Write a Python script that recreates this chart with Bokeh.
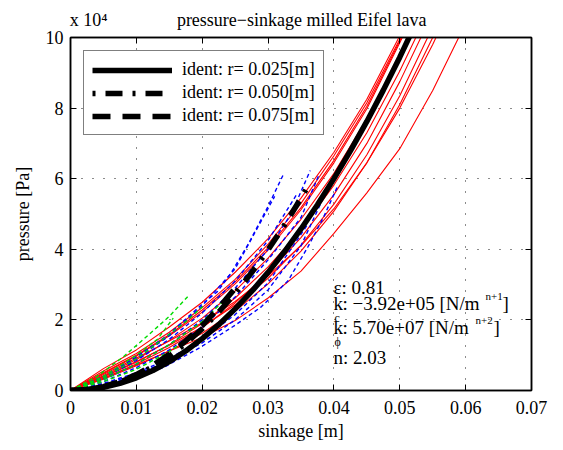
from bokeh.plotting import figure
from bokeh.models import Range1d, LinearAxis, FixedTicker, Legend, LegendItem, Label
from bokeh.embed import file_html
from bokeh.resources import INLINE

FONT = "Liberation Serif"

# ---------------- data ----------------
x_ticks = [0, 0.01, 0.02, 0.03, 0.04, 0.05, 0.06, 0.07]
x_tick_labels = ["0", "0.01", "0.02", "0.03", "0.04", "0.05", "0.06", "0.07"]
y_ticks = [0, 2, 4, 6, 8, 10]
y_tick_labels = ["0", "2", "4", "6", "8", "10"]

# measured curves r = 0.025 (red), pressure in 1e4 Pa
red_x = [0, 0.005, 0.01, 0.015, 0.02, 0.025, 0.03, 0.035, 0.04, 0.045, 0.05, 0.055, 0.06]
red_1 = [0, 0.62, 1.15, 1.80, 2.50, 3.35, 4.30, 5.45, 6.75, 8.25, 10.05, 12.0, 14.0]
red_2 = [0, 0.55, 1.05, 1.65, 2.35, 3.15, 4.15, 5.30, 6.65, 8.15, 9.95, 11.9, 14.0]
red_3 = [0, 0.48, 0.98, 1.55, 2.22, 3.02, 3.98, 5.12, 6.45, 7.98, 9.85, 11.8, 14.0]
red_4 = [0, 0.42, 0.88, 1.42, 2.05, 2.82, 3.75, 4.85, 6.15, 7.70, 9.50, 11.5, 13.6]
red_5 = [0, 0.38, 0.80, 1.30, 1.90, 2.62, 3.50, 4.55, 5.82, 7.30, 9.05, 11.0, 13.0]
red_6 = [0, 0.35, 0.75, 1.22, 1.78, 2.48, 3.32, 4.33, 5.55, 7.00, 8.75, 10.7, 12.8]
red_7 = [0, 0.40, 0.82, 1.28, 1.80, 2.42, 3.18, 4.12, 5.28, 6.68, 8.35, 10.3, 12.4]
red_8 = [0, 0.32, 0.70, 1.12, 1.62, 2.25, 3.02, 3.95, 5.08, 6.45, 8.10, 10.0, 12.1]
red_9 = [0, 0.35, 0.72, 1.12, 1.50, 1.98, 2.62, 3.38, 4.45, 5.60, 6.85, 8.50, 10.4]
red_10 = [0, 0.45, 0.92, 1.40, 1.92, 2.52, 3.25, 4.10, 5.15, 6.45, 8.00, 9.80, 11.8]
red_11 = [0, 0.50, 1.00, 1.58, 2.28, 3.08, 4.05, 5.18, 6.52, 8.05, 9.90, 11.8, 14.0]
red_curves = [red_1, red_2, red_3, red_4, red_5, red_6, red_7, red_8, red_9, red_10, red_11]

# measured curves r = 0.050 (blue)
blue_1_x = [0, 0.005, 0.01, 0.015, 0.02, 0.0223, 0.0243, 0.027, 0.0299, 0.0324]
blue_1_y = [0, 0.40, 0.95, 1.60, 2.45, 2.80, 3.30, 4.15, 5.18, 6.15]
blue_2_x = [0, 0.005, 0.01, 0.015, 0.02, 0.025, 0.03, 0.0335, 0.0364]
blue_2_y = [0, 0.30, 0.75, 1.30, 2.00, 2.90, 4.00, 5.00, 6.23]
blue_3_x = [0, 0.005, 0.01, 0.015, 0.02, 0.025, 0.03, 0.035, 0.0377]
blue_3_y = [0, 0.25, 0.65, 1.15, 1.80, 2.65, 3.70, 4.90, 6.10]
blue_4_x = [0, 0.005, 0.01, 0.015, 0.02, 0.025, 0.03, 0.0345]
blue_4_y = [0, 0.35, 0.85, 1.45, 2.20, 3.10, 4.25, 5.60]
blue_5_x = [0, 0.005, 0.01, 0.0141, 0.0197, 0.025, 0.0289, 0.033, 0.036, 0.0384, 0.0405]
blue_5_y = [0, 0.15, 0.40, 0.65, 1.22, 1.85, 2.36, 3.10, 4.05, 4.90, 5.76]
blue_6_x = [0, 0.005, 0.01, 0.015, 0.02, 0.025, 0.03, 0.036]
blue_6_y = [0, 0.20, 0.50, 0.90, 1.45, 2.15, 3.05, 4.70]
blue_7_x = [0, 0.005, 0.01, 0.015, 0.02, 0.025, 0.03, 0.035, 0.038]
blue_7_y = [0, 0.18, 0.45, 0.85, 1.35, 2.00, 2.85, 4.10, 5.30]
blue_8_x = [0, 0.005, 0.01, 0.015, 0.02, 0.025, 0.031]
blue_8_y = [0, 0.35, 0.90, 1.55, 2.40, 3.45, 5.50]
blue_x = [blue_1_x, blue_2_x, blue_3_x, blue_4_x, blue_5_x, blue_6_x, blue_7_x, blue_8_x]
blue_y = [blue_1_y, blue_2_y, blue_3_y, blue_4_y, blue_5_y, blue_6_y, blue_7_y, blue_8_y]

# measured curves r = 0.075 (green)
green_1_x = [0, 0.004, 0.008, 0.012, 0.015, 0.018]
green_1_y = [0, 0.40, 0.95, 1.60, 2.10, 2.70]
green_2_x = [0, 0.005, 0.01, 0.014, 0.0175, 0.0202]
green_2_y = [0, 0.35, 0.90, 1.45, 1.95, 2.40]
green_3_x = [0, 0.005, 0.01, 0.015, 0.02, 0.0233]
green_3_y = [0, 0.30, 0.75, 1.30, 1.95, 2.55]
green_4_x = [0, 0.005, 0.01, 0.0132, 0.0156]
green_4_y = [0, 0.40, 1.00, 1.45, 2.05]
green_5_x = [0, 0.005, 0.01, 0.015, 0.019]
green_5_y = [0, 0.25, 0.60, 1.10, 1.60]
green_x = [green_1_x, green_2_x, green_3_x, green_4_x, green_5_x]
green_y = [green_1_y, green_2_y, green_3_y, green_4_y, green_5_y]

# identified curves (black)
fit_025_x = [0, 0.0025, 0.005, 0.0075, 0.01, 0.0125, 0.015, 0.0175, 0.02, 0.0225, 0.025,
             0.0275, 0.03, 0.0325, 0.035, 0.0375, 0.04, 0.0425, 0.045, 0.0475, 0.05, 0.0525, 0.055]
fit_025_y = [0, 0.0216, 0.088, 0.2007, 0.360, 0.566, 0.819, 1.120, 1.469, 1.865, 2.312,
             2.805, 3.347, 3.937, 4.577, 5.260, 6.002, 6.789, 7.622, 8.509, 9.442, 10.43, 11.46]
fit_050_x = [0, 0.0025, 0.005, 0.0075, 0.01, 0.0125, 0.015, 0.0175, 0.02, 0.0225, 0.025,
             0.0275, 0.03, 0.0325, 0.035, 0.036]
fit_050_y = [0, 0.0257, 0.105, 0.239, 0.428, 0.674, 0.975, 1.333, 1.749, 2.220, 2.752,
             3.339, 3.984, 4.686, 5.448, 5.77]
fit_075_x = [0, 0.0025, 0.005, 0.0075, 0.01, 0.0125, 0.015, 0.0175, 0.02, 0.0225, 0.025]
fit_075_y = [0, 0.0271, 0.110, 0.2516, 0.451, 0.7095, 1.027, 1.404, 1.841, 2.338, 2.898]

legend_labels = ["ident: r= 0.025[m]", "ident: r= 0.050[m]", "ident: r= 0.075[m]"]
title_text = "pressure\u2212sinkage milled Eifel lava"
scale_text = "x 10\u2074"
x_label = "sinkage [m]"
y_label = "pressure [Pa]"
eps_text = "\u03b5: 0.81"
kc_text = ": \u22123.92e+05 [N/m"
kphi_text = ": 5.70e+07 [N/m"
n_text = "n:  2.03"

# ---------------- figure ----------------
W, H = 563, 450
FL, FR, FT, FB = 70, 531, 37, 390

p = figure(width=W, height=H, output_backend="svg", toolbar_location=None, title=None,
           x_range=Range1d(0, 0.07), y_range=Range1d(0, 10),
           min_border_left=FL, min_border_right=W - FR,
           min_border_top=FT, min_border_bottom=H - FB)
p.background_fill_color = "white"
p.border_fill_color = "white"
p.outline_line_color = "black"
p.outline_line_width = 1.5

def style_axis(ax, labels=True):
    ax.axis_line_color = "black"
    ax.axis_line_width = 1.5
    ax.major_tick_in = 6
    ax.major_tick_out = 0
    ax.minor_tick_line_color = None
    ax.major_tick_line_color = "black"
    ax.major_tick_line_width = 1
    ax.major_label_text_font = FONT
    ax.major_label_text_font_size = "18px"
    ax.major_label_text_color = "black"
    ax.axis_label_text_font = FONT
    ax.axis_label_text_font_size = "18px"
    ax.axis_label_text_font_style = "normal"
    ax.axis_label_text_color = "black"
    if not labels:
        ax.major_label_text_font_size = "0px"
        ax.major_label_standoff = 0

xa = p.xaxis[0]
ya = p.yaxis[0]
xa.ticker = FixedTicker(ticks=x_ticks)
ya.ticker = FixedTicker(ticks=y_ticks)
xa.major_label_overrides = {t: l for t, l in zip(x_ticks, x_tick_labels)}
ya.major_label_overrides = {t: l for t, l in zip(y_ticks, y_tick_labels)}
xa.axis_label = x_label
ya.axis_label = y_label
style_axis(xa)
style_axis(ya)
xa.major_label_standoff = 10
ya.major_label_standoff = 7
xa.axis_label_standoff = 4
ya.axis_label_standoff = 10

# top frame ticks (nearest to frame)
top_ax = LinearAxis(ticker=FixedTicker(ticks=x_ticks))
style_axis(top_ax, labels=False)
top_ax.major_label_overrides = {t: "" for t in x_ticks}
p.add_layout(top_ax, "above")

# header texts carried by a tick-less axis above the frame
header_pos = [0.00275, 0.0351]
header_ax = LinearAxis(ticker=FixedTicker(ticks=header_pos))
header_ax.major_label_overrides = {header_pos[0]: scale_text, header_pos[1]: title_text}
header_ax.axis_line_color = None
header_ax.major_tick_line_color = None
header_ax.minor_tick_line_color = None
header_ax.major_tick_in = 0
header_ax.major_tick_out = 0
header_ax.major_label_text_font = FONT
header_ax.major_label_text_font_size = "18px"
header_ax.major_label_text_color = "black"
header_ax.major_label_standoff = 8
p.add_layout(header_ax, "above")

right_ax = LinearAxis(ticker=FixedTicker(ticks=y_ticks))
style_axis(right_ax, labels=False)
right_ax.major_label_overrides = {t: "" for t in y_ticks}
p.add_layout(right_ax, "right")

for g in (p.xgrid[0], p.ygrid[0]):
    g.grid_line_color = "black"
    g.grid_line_dash = "1 10"
    g.grid_line_width = 1
    g.grid_line_alpha = 0.9
p.xgrid[0].ticker = FixedTicker(ticks=x_ticks[1:-1])
p.ygrid[0].ticker = FixedTicker(ticks=y_ticks[1:-1])

# ---------------- data lines ----------------
for ry in red_curves:
    p.line(red_x, ry, line_color="red", line_width=1.1)
for bx, by in zip(blue_x, blue_y):
    p.line(bx, by, line_color="blue", line_width=1.4, line_dash="4 3")
for gx, gy in zip(green_x, green_y):
    p.line(gx, gy, line_color="#00dd00", line_width=1.4, line_dash="4 3")

r_solid = p.line(fit_025_x, fit_025_y, line_color="black", line_width=5.5)
r_dd = p.line(fit_050_x, fit_050_y, line_color="black", line_width=5.5, line_dash="3 10 17 10")
r_d = p.line(fit_075_x, fit_075_y, line_color="black", line_width=5.5, line_dash="18 12")

legend = Legend(items=[LegendItem(label=legend_labels[0], renderers=[r_solid]),
                       LegendItem(label=legend_labels[1], renderers=[r_dd]),
                       LegendItem(label=legend_labels[2], renderers=[r_d])],
                location="top_left")
legend.label_text_font = FONT
legend.label_text_font_size = "18px"
legend.label_text_color = "black"
legend.glyph_width = 80
legend.glyph_height = 20
legend.label_height = 20
legend.label_standoff = 10
legend.spacing = 2
legend.padding = 8
legend.margin = 13
legend.border_line_color = "black"
legend.border_line_width = 1.5
legend.background_fill_color = "white"
legend.background_fill_alpha = 1.0
p.add_layout(legend, "center")

# ---------------- annotations ----------------
def dx(px):
    return (px - FL) / (FR - FL) * 0.07

def dy(py):
    return (FB - py) / (FB - FT) * 10

def lab(txt, px, py, size="19px", baseline="middle"):
    p.add_layout(Label(x=dx(px), y=dy(py), text=txt, text_font=FONT,
                       text_font_size=size, text_baseline=baseline,
                       text_align="left", text_color="black"))

lab(eps_text, 333, 287)
lab("k", 333, 303)
lab("c", 334, 317, size="12px")
lab(kc_text, 342, 303)
lab("n+1", 485, 295, size="11px")
lab("]", 502, 303)
lab("k", 333, 327)
lab("\u03d5", 334, 341, size="12px")
lab(kphi_text, 342, 327)
lab("n+2", 475, 319, size="11px")
lab("]", 493, 327)
lab(n_text, 333, 357)

open("out.html", "w").write(file_html(p, INLINE))
